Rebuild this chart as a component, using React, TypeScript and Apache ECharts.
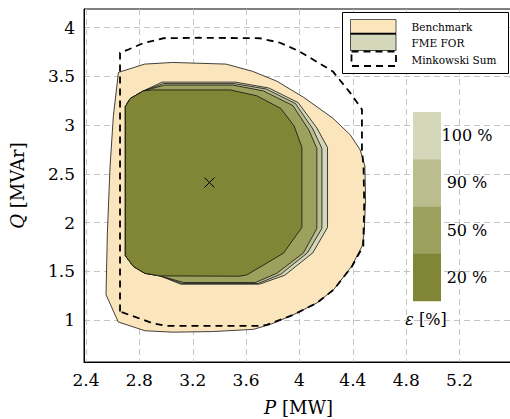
import React, { useEffect, useRef } from 'react';
import * as echarts from 'echarts';

// ---------- data ----------
const xTicks = [2.4, 2.8, 3.2, 3.6, 4, 4.4, 4.8, 5.2];
const yTicks = [1, 1.5, 2, 2.5, 3, 3.5, 4];

const benchmark: number[][] = [
  [2.643, 3.54], [2.84, 3.625], [3.05, 3.642], [3.45, 3.625], [3.65, 3.55], [3.83, 3.45],
  [4.03, 3.285], [4.25, 3.07], [4.38, 2.9], [4.455, 2.745], [4.49, 2.58], [4.495, 2.23],
  [4.485, 1.9], [4.47, 1.76], [4.39, 1.55], [4.255, 1.31], [4.13, 1.175], [3.955, 1.055],
  [3.78, 0.955], [3.655, 0.905], [3.35, 0.882], [3.05, 0.876], [2.843, 0.89], [2.642, 0.98],
  [2.55, 1.26], [2.56, 1.89], [2.58, 2.57], [2.605, 3.09],
];

const minkowski: number[][] = [
  [2.655, 1.087], [2.655, 3.74], [2.71, 3.77], [2.83, 3.84], [2.98, 3.89], [3.25, 3.895],
  [3.7, 3.89], [3.85, 3.846], [4.0, 3.755], [4.25, 3.55], [4.38, 3.33], [4.468, 3.16],
  [4.468, 2.75], [4.48, 2.57], [4.485, 2.2], [4.478, 1.76], [4.393, 1.55], [4.255, 1.31],
  [4.13, 1.175], [3.955, 1.055], [3.755, 0.95], [3.7, 0.94], [3.0, 0.94], [2.9, 0.968],
];

const fme100: number[][] = [
  [2.695, 1.66], [2.695, 3.19], [2.73, 3.27], [2.83, 3.35], [2.97, 3.44], [3.52, 3.44],
  [3.77, 3.38], [3.99, 3.23], [4.13, 2.97], [4.21, 2.77], [4.21, 1.95], [4.1, 1.69],
  [3.89, 1.46], [3.7, 1.368], [3.11, 1.368], [2.955, 1.453], [2.84, 1.48], [2.755, 1.55],
];
const fme90: number[][] = [
  [2.695, 1.66], [2.695, 3.19], [2.73, 3.27], [2.83, 3.35], [2.98, 3.425], [3.51, 3.425],
  [3.75, 3.37], [3.97, 3.22], [4.1, 2.96], [4.168, 2.76], [4.168, 1.94], [4.06, 1.69],
  [3.86, 1.47], [3.69, 1.375], [3.12, 1.375], [2.955, 1.453], [2.84, 1.48], [2.755, 1.55],
];
const fme50: number[][] = [
  [2.695, 1.66], [2.695, 3.19], [2.73, 3.27], [2.83, 3.35], [2.99, 3.41], [3.5, 3.41],
  [3.73, 3.35], [3.95, 3.2], [4.07, 2.95], [4.13, 2.76], [4.13, 1.94], [4.03, 1.69],
  [3.83, 1.48], [3.67, 1.385], [3.13, 1.385], [2.955, 1.453], [2.84, 1.48], [2.755, 1.55],
];
const fme20: number[][] = [
  [2.695, 1.66], [2.695, 3.19], [2.73, 3.27], [2.83, 3.35], [2.9, 3.36], [3.48, 3.36],
  [3.68, 3.3], [3.86, 3.17], [3.96, 2.99], [4.018, 2.77], [4.018, 1.95], [3.88, 1.686],
  [3.605, 1.463], [3.55, 1.45], [2.955, 1.453], [2.84, 1.48], [2.755, 1.55],
];
const centre = [3.325, 2.41];

const levelLabels = ['100 %', '90 %', '50 %', '20 %'];
const levelColors = ['#d4d7ba', '#babd8d', '#9da15e', '#818536'];
const benchColor = '#fbe5bd';
const legendLabels = ['Benchmark', 'FME FOR', 'Minkowski Sum'];

const SERIF = 'DejaVu Serif';

function polySeries(name: string, pts: number[][], style: any, z: number) {
  return {
    type: 'custom',
    name,
    coordinateSystem: 'cartesian2d',
    data: [pts[0]],
    z,
    silent: true,
    renderItem: (_p: any, api: any) => ({
      type: 'polygon',
      shape: { points: pts.map((p) => api.coord(p)) },
      style: { ...style },
    }),
  };
}

export default function App() {
  const ref = useRef<HTMLDivElement>(null);
  useEffect(() => {
    if (!ref.current) return;
    const chart = echarts.init(ref.current, undefined, { renderer: 'svg' });

    const barTop = 112;
    const segH = 47.25;
    const graphics: any[] = [];
    levelColors.forEach((c, i) => {
      graphics.push({
        type: 'rect', z: 100, silent: true,
        shape: { x: 413, y: barTop + i * segH, width: 28, height: segH + 0.3 },
        style: { fill: c },
      });
      graphics.push({
        type: 'text', z: 101, silent: true,
        x: 467, y: barTop + (i + 0.5) * segH,
        style: { text: levelLabels[i], fill: '#000', font: `16px "${SERIF}"`, align: 'center', verticalAlign: 'middle' },
      });
    });
    graphics.push({
      type: 'text', z: 101, silent: true, x: 426, y: 319,
      style: {
        text: '{i|ε} [%]', fill: '#000', font: `16px "${SERIF}"`, align: 'center', verticalAlign: 'middle',
        rich: { i: { fontStyle: 'italic', fontFamily: SERIF, fontSize: 16, fill: '#000' } },
      },
    });
    // legend
    graphics.push({
      type: 'rect', z: 100, silent: true,
      shape: { x: 342.5, y: 12.5, width: 166, height: 61 },
      style: { fill: '#fff', stroke: '#000', lineWidth: 1 },
    });
    graphics.push({
      type: 'rect', z: 101, silent: true,
      shape: { x: 350.5, y: 19.5, width: 45.5, height: 14 },
      style: { fill: benchColor, stroke: '#333', lineWidth: 0.8 },
    });
    graphics.push({
      type: 'rect', z: 101, silent: true,
      shape: { x: 350.5, y: 34, width: 45.5, height: 16.5 },
      style: { fill: levelColors[0], stroke: '#222', lineWidth: 0.8 },
    });
    graphics.push({
      type: 'line', z: 102, silent: true,
      shape: { x1: 350.5, y1: 33.7, x2: 396, y2: 33.7 },
      style: { stroke: '#000', lineWidth: 1.8 },
    });
    graphics.push({
      type: 'rect', z: 102, silent: true,
      shape: { x: 351.5, y: 51.5, width: 44.5, height: 14.5 },
      style: { fill: 'none', stroke: '#000', lineWidth: 1.8, lineDash: [7, 5] },
    });
    [26.5, 42.5, 59.5].forEach((y, i) => {
      graphics.push({
        type: 'text', z: 102, silent: true, x: 411.5, y,
        style: { text: legendLabels[i], fill: '#000', font: `10.5px "${SERIF}"`, align: 'left', verticalAlign: 'middle' },
      });
    });

    const option: any = {
      animation: false,
      backgroundColor: '#fff',
      grid: {
        left: 84, right: -3, top: 9, bottom: 57, show: true, borderColor: '#000', borderWidth: 1,
        backgroundColor: 'transparent', containLabel: false, outerBoundsMode: 'none',
      },
      xAxis: {
        type: 'value', min: 2.385, max: 5.6,
        name: '{i|P} [MW]', nameLocation: 'middle', nameGap: 36,
        nameTextStyle: {
          fontFamily: SERIF, fontSize: 18, color: '#000',
          rich: { i: { fontStyle: 'italic', fontFamily: SERIF, fontSize: 18, color: '#000' } },
        },
        axisLine: { show: true, lineStyle: { color: '#000', width: 1 } },
        axisTick: { show: false, customValues: xTicks },
        axisLabel: { customValues: xTicks, color: '#000', fontFamily: SERIF, fontSize: 17, margin: 9, formatter: (v: number) => String(v) },
        splitLine: { show: true, lineStyle: { color: '#c4c4c4', width: 1, type: [6, 4] } },
      },
      yAxis: {
        type: 'value', min: 0.57, max: 4.19,
        name: '{i|Q} [MVAr]', nameLocation: 'middle', nameGap: 58,
        nameTextStyle: {
          fontFamily: SERIF, fontSize: 18, color: '#000',
          rich: { i: { fontStyle: 'italic', fontFamily: SERIF, fontSize: 18, color: '#000' } },
        },
        axisLine: { show: true, lineStyle: { color: '#000', width: 1 } },
        axisTick: { show: false, customValues: yTicks },
        axisLabel: { customValues: yTicks, color: '#000', fontFamily: SERIF, fontSize: 17, margin: 9, formatter: (v: number) => String(v) },
        splitLine: { show: true, lineStyle: { color: '#c4c4c4', width: 1, type: [6, 4] } },
      },
      series: [
        polySeries('Benchmark', benchmark, { fill: benchColor, stroke: '#111', lineWidth: 0.8 }, 2),
        polySeries('FME 100', fme100, { fill: levelColors[0], stroke: '#111', lineWidth: 0.8 }, 3),
        polySeries('FME 90', fme90, { fill: levelColors[1], stroke: '#111', lineWidth: 0.8 }, 4),
        polySeries('FME 50', fme50, { fill: levelColors[2], stroke: '#111', lineWidth: 0.8 }, 5),
        polySeries('FME 20', fme20, { fill: levelColors[3], stroke: '#111', lineWidth: 0.8 }, 6),
        polySeries('Minkowski Sum', minkowski, { fill: 'none', stroke: '#000', lineWidth: 1.8, lineDash: [7, 5] }, 7),
        {
          type: 'custom', name: 'centre', coordinateSystem: 'cartesian2d', data: [centre], z: 8, silent: true,
          renderItem: (_p: any, api: any) => {
            const c = api.coord(centre);
            const d = 5;
            return {
              type: 'group',
              children: [
                { type: 'line', shape: { x1: c[0] - d, y1: c[1] - d, x2: c[0] + d, y2: c[1] + d }, style: { stroke: '#000', lineWidth: 1 } },
                { type: 'line', shape: { x1: c[0] - d, y1: c[1] + d, x2: c[0] + d, y2: c[1] - d }, style: { stroke: '#000', lineWidth: 1 } },
              ],
            };
          },
        },
      ],
      graphic: graphics,
    };
    chart.setOption(option);
    return () => chart.dispose();
  }, []);
  return <div ref={ref} style={{ position: 'absolute', left: 0, top: 0, width: 510, height: 419 }} />;
}
